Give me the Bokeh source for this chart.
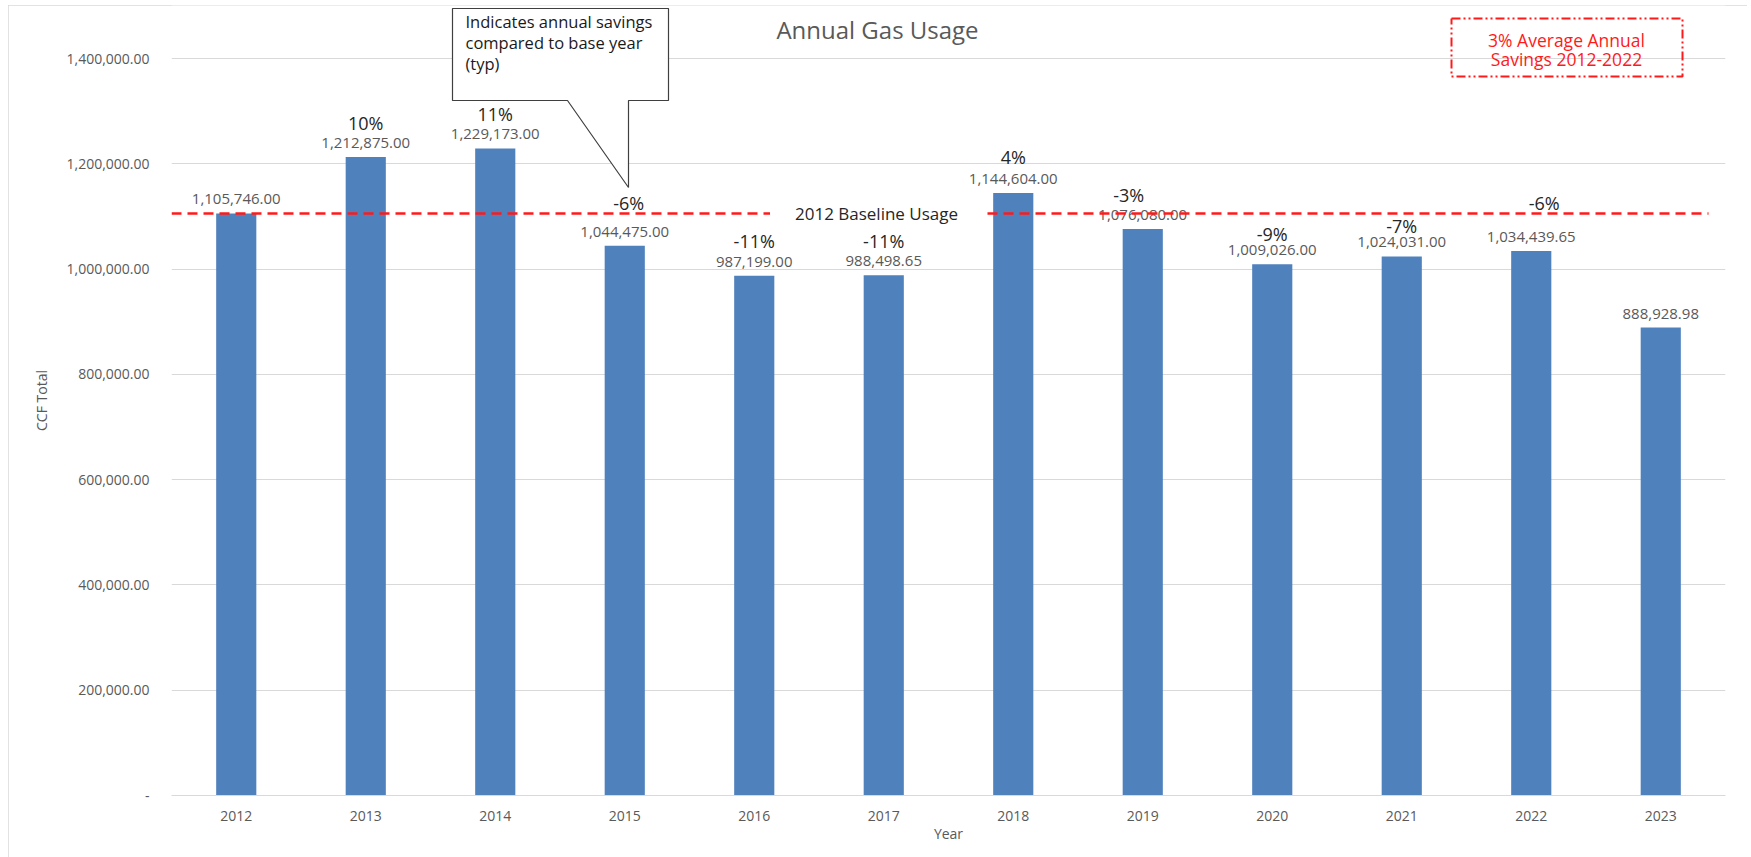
from bokeh.plotting import figure
from bokeh.models import Range1d, FixedTicker, NumeralTickFormatter, Label, ColumnDataSource
from bokeh.embed import file_html
from bokeh.resources import INLINE
from bokeh.core.properties import value

# ---------------- data ----------------
years = [2012, 2013, 2014, 2015, 2016, 2017, 2018, 2019, 2020, 2021, 2022, 2023]
ccf_total = [1105746.00, 1212875.00, 1229173.00, 1044475.00, 987199.00, 988498.65,
             1144604.00, 1076080.00, 1009026.00, 1024031.00, 1034439.65, 888928.98]
pct_labels = ["", "10%", "11%", "-6%", "-11%", "-11%", "4%", "-3%", "-9%", "-7%", "-6%", ""]
baseline = 1105746.00
y_ticks = [0, 200000, 400000, 600000, 800000, 1000000, 1200000, 1400000]

# label placement (style, pixels)
pct_dy = [0, -34, -34, -43, -35, -34, -36, -34, -30, -30, -48, 0]
pct_dx = [0, 0, 0, 4, 0, 0, 0, -14, 0, 0, 13, 0]

FONT = value("Open Sans")
GRAY = "#595959"

W, H = 1739, 852
p = figure(width=W, height=H, output_backend="svg", toolbar_location=None,
           x_range=Range1d(2011.5, 2023.5),
           y_range=Range1d(0, 1400000 * 790 / 737),
           min_border_left=163, min_border_right=22, min_border_top=0, min_border_bottom=62)
p.outline_line_color = None
p.background_fill_color = "white"
p.border_fill_color = "white"
p.styles = {"margin-left": "8px", "margin-top": "5px",
            "outline": "1px solid #d9d9d9", "outline-offset": "-1px"}

# helpers for placing annotations (page pixels -> data)
def px2x(px):
    return 2011.5 + (px - 171) / 129.5

def py2y(py):
    return (795 - py) * 1400000 / 737

# grid / axes
p.xgrid.grid_line_color = None
p.ygrid.ticker = FixedTicker(ticks=y_ticks)
p.ygrid.grid_line_color = "#d9d9d9"
p.ygrid.grid_line_width = 1

p.yaxis.ticker = FixedTicker(ticks=y_ticks)
p.yaxis.formatter = NumeralTickFormatter(format="0,0.00")
p.yaxis.major_label_overrides = {0: "-"}
p.yaxis.axis_line_color = None
p.yaxis.major_tick_line_color = None
p.yaxis.minor_tick_line_color = None
p.yaxis.major_label_standoff = 16
p.yaxis.axis_label = "CCF Total"
p.yaxis.axis_label_standoff = 13

p.xaxis.ticker = FixedTicker(ticks=years)
p.xaxis.axis_line_color = "#d9d9d9"
p.xaxis.axis_line_width = 1
p.xaxis.major_tick_line_color = None
p.xaxis.minor_tick_line_color = None
p.xaxis.major_label_standoff = 9
p.xaxis.axis_label = "Year"
p.xaxis.axis_label_standoff = 0

for ax in (p.xaxis[0], p.yaxis[0]):
    ax.major_label_text_font = "Open Sans"
    ax.major_label_text_font_size = "14px"
    ax.major_label_text_color = GRAY
    ax.axis_label_text_font = "Open Sans"
    ax.axis_label_text_font_size = "14px"
    ax.axis_label_text_font_style = "normal"
    ax.axis_label_text_color = GRAY

src = ColumnDataSource(dict(
    year=years, ccf=ccf_total,
    vlabel=[f"{v:,.2f}" for v in ccf_total],
    pct=pct_labels, pct_dx=pct_dx, pct_dy=pct_dy,
))

p.vbar(x="year", top="ccf", bottom=0, width=0.31, source=src,
       fill_color="#4F81BD", line_color=None)

# value labels
p.text(x="year", y="ccf", text="vlabel", source=src, text_align="center",
       text_baseline="middle", y_offset=-14, text_font=FONT,
       text_font_size="15px", text_color=GRAY)

# baseline
p.line(x=[p.x_range.start, px2x(1708)], y=[baseline, baseline],
       line_color="#FF1A1A", line_width=2.5, line_dash="10 6")
p.rect(x=px2x(876), y=baseline, width=213, height=8, width_units="screen",
       height_units="screen", fill_color="white", line_color=None)
p.text(x=[px2x(876)], y=[baseline], text=["2012 Baseline Usage"], text_align="center",
       text_baseline="middle", text_font=FONT, text_font_size="17px", text_color="#262626")

# percent labels
p.text(x="year", y="ccf", text="pct", source=src, text_align="center",
       text_baseline="middle", x_offset="pct_dx", y_offset="pct_dy", text_font=FONT,
       text_font_size="18px", text_color="#262626")

# title
p.add_layout(Label(x=px2x(877), y=py2y(29), text="Annual Gas Usage",
                   text_align="center", text_baseline="middle",
                   text_font="Open Sans", text_font_size="24px", text_color=GRAY))

# callout box
cx = [452, 668, 668, 628, 628, 567, 452]
cy = [8, 8, 100, 100, 187, 100, 100]
p.patch([px2x(v) for v in cx], [py2y(v) for v in cy], fill_color="white",
        line_color="#3f3f3f", line_width=1.2)
for i, line in enumerate(["Indicates  annual savings", "compared to base year", "(typ)"]):
    p.add_layout(Label(x=px2x(465), y=py2y(21 + 21 * i), text=line,
                       text_align="left", text_baseline="middle",
                       text_font="Open Sans", text_font_size="16.5px", text_color="#1a1a1a"))

# red note box
rx = [1451, 1682, 1682, 1451, 1451]
ry = [18, 18, 76, 76, 18]
p.line([px2x(v) for v in rx], [py2y(v) for v in ry], line_color="#FF1A1A",
       line_width=2, line_dash="9 3 2 3 2 3")
for i, line in enumerate(["3% Average Annual", "Savings 2012-2022"]):
    p.add_layout(Label(x=px2x(1566), y=py2y(39 + 19 * i), text=line,
                       text_align="center", text_baseline="middle",
                       text_font="Open Sans", text_font_size="17.5px", text_color="#FF1A1A"))

open("out.html", "w").write(file_html(p, INLINE))
